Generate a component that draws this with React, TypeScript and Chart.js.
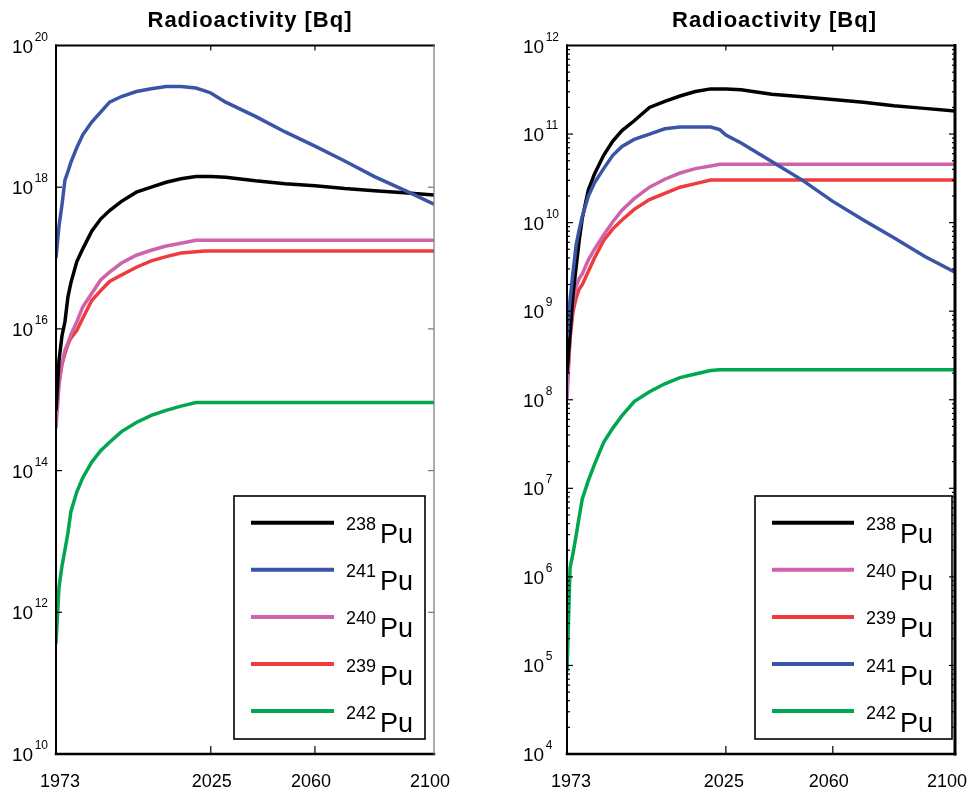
import React, { useEffect, useRef } from "react";
import { Chart, registerables } from "chart.js";

Chart.register(...registerables);

// Sample years (x)
const years = [1973, 1974, 1975, 1976, 1977, 1978, 1980, 1982, 1985, 1988, 1991, 1995, 2000, 2005, 2010, 2015, 2020, 2023, 2025, 2030, 2040, 2050, 2060, 2070, 2080, 2090, 2100];

// Tick labels
const xTickYears = [1973, 2025, 2060, 2100];
const xInnerTickYears = [2025, 2060];
const leftYExponents = [10, 12, 14, 16, 18, 20];
const rightYExponents = [4, 5, 6, 7, 8, 9, 10, 11, 12];

// Left panel: log10 of activity [Bq]
const left238 = [14.85, 15.55, 15.9, 16.1, 16.45, 16.65, 16.95, 17.13, 17.38, 17.55, 17.67, 17.8, 17.93, 18.0, 18.07, 18.12, 18.15, 18.15, 18.15, 18.14, 18.09, 18.05, 18.02, 17.98, 17.95, 17.92, 17.89];
const left241 = [17.0, 17.45, 17.75, 18.1, 18.22, 18.35, 18.56, 18.74, 18.92, 19.06, 19.2, 19.28, 19.35, 19.39, 19.42, 19.42, 19.4, 19.36, 19.33, 19.2, 19.0, 18.78, 18.58, 18.37, 18.15, 17.96, 17.76];
const left240 = [14.6, 15.2, 15.5, 15.7, 15.8, 15.92, 16.1, 16.31, 16.5, 16.69, 16.8, 16.93, 17.04, 17.11, 17.17, 17.21, 17.25, 17.25, 17.25, 17.25, 17.25, 17.25, 17.25, 17.25, 17.25, 17.25, 17.25];
const left239 = [14.76, 15.25, 15.5, 15.65, 15.78, 15.87, 15.98, 16.15, 16.4, 16.54, 16.67, 16.76, 16.87, 16.96, 17.02, 17.07, 17.09, 17.1, 17.1, 17.1, 17.1, 17.1, 17.1, 17.1, 17.1, 17.1, 17.1];
const left242 = [11.56, 12.35, 12.65, 12.88, 13.12, 13.42, 13.7, 13.9, 14.12, 14.28, 14.4, 14.55, 14.68, 14.78, 14.85, 14.91, 14.96, 14.96, 14.96, 14.96, 14.96, 14.96, 14.96, 14.96, 14.96, 14.96, 14.96];

// Right panel: log10 of activity [Bq]
const right238 = [8.3, 8.75, 9.2, 9.5, 9.8, 10.05, 10.37, 10.55, 10.76, 10.92, 11.04, 11.15, 11.3, 11.37, 11.43, 11.48, 11.51, 11.51, 11.51, 11.5, 11.45, 11.42, 11.39, 11.36, 11.32, 11.29, 11.26];
const right241 = [8.69, 9.13, 9.45, 9.75, 9.92, 10.07, 10.3, 10.45, 10.61, 10.76, 10.86, 10.94, 11.0, 11.06, 11.08, 11.08, 11.08, 11.05, 10.99, 10.9, 10.69, 10.48, 10.24, 10.03, 9.83, 9.62, 9.44];
const right240 = [8.0, 8.7, 9.1, 9.28, 9.37, 9.42, 9.58, 9.7, 9.86, 10.01, 10.14, 10.27, 10.4, 10.49, 10.56, 10.61, 10.64, 10.66, 10.66, 10.66, 10.66, 10.66, 10.66, 10.66, 10.66, 10.66, 10.66];
const right239 = [8.15, 8.7, 9.0, 9.15, 9.25, 9.3, 9.45, 9.6, 9.8, 9.93, 10.03, 10.15, 10.26, 10.33, 10.4, 10.44, 10.48, 10.48, 10.48, 10.48, 10.48, 10.48, 10.48, 10.48, 10.48, 10.48, 10.48];
const right242 = [4.93, 6.1, 6.27, 6.47, 6.68, 6.88, 7.09, 7.27, 7.52, 7.68, 7.82, 7.98, 8.09, 8.18, 8.25, 8.29, 8.33, 8.34, 8.34, 8.34, 8.34, 8.34, 8.34, 8.34, 8.34, 8.34, 8.34];

const COLORS: Record<string, string> = {
  "238": "#000000",
  "241": "#3b55a6",
  "240": "#cf63ab",
  "239": "#ef3b3d",
  "242": "#00a651",
};

const leftLegendOrder = ["238", "241", "240", "239", "242"];
const rightLegendOrder = ["238", "240", "239", "241", "242"];

const FONT = '"Liberation Sans", Arial, Helvetica, sans-serif';

function toPoints(vals: number[]) {
  return years.map((y, i) => ({ x: y, y: Math.pow(10, vals[i]) }));
}

const decoPlugin = {
  id: "deco",
  afterDraw(chart: any, _args: any, opts: any) {
    const ctx: CanvasRenderingContext2D = chart.ctx;
    const { left, right, top, bottom } = chart.chartArea;
    const xs = chart.scales.x;
    const ys = chart.scales.y;
    ctx.save();

    // Legend box
    const lb = opts.legendBox;
    ctx.fillStyle = "#ffffff";
    ctx.fillRect(lb.x, lb.y, lb.w, lb.h);
    ctx.strokeStyle = "#000";
    ctx.lineWidth = 1.6;
    ctx.strokeRect(lb.x, lb.y, lb.w, lb.h);
    opts.legendItems.forEach((iso: string, i: number) => {
      const y = lb.firstRow + i * lb.rowGap;
      ctx.strokeStyle = COLORS[iso];
      ctx.lineWidth = 4;
      ctx.lineCap = "butt";
      ctx.beginPath();
      ctx.moveTo(lb.lineX0, y);
      ctx.lineTo(lb.lineX1, y);
      ctx.stroke();
      ctx.fillStyle = "#000";
      ctx.textAlign = "left";
      ctx.textBaseline = "alphabetic";
      ctx.font = `18px ${FONT}`;
      ctx.fillText(iso, lb.supX, y + 7.5);
      ctx.font = `27px ${FONT}`;
      ctx.fillText("Pu", lb.puX, y + 20.5);
    });

    // Frame
    ctx.lineCap = "square";
    const line = (x0: number, y0: number, x1: number, y1: number, w: number, c: string) => {
      ctx.strokeStyle = c;
      ctx.lineWidth = w;
      ctx.beginPath();
      ctx.moveTo(x0, y0);
      ctx.lineTo(x1, y1);
      ctx.stroke();
    };
    line(left, top, right, top, 2, "#000");
    line(left, top, left, bottom, 2, "#000");
    line(left, bottom, right, bottom, 2.5, "#000");
    line(right, top, right, bottom, opts.rightFrameWidth, opts.rightFrameColor);

    // Y ticks
    ctx.lineCap = "butt";
    opts.majorExps.forEach((e: number) => {
      const y = ys.getPixelForValue(Math.pow(10, e));
      line(left, y, left + 6, y, 1.2, "#000");
      line(right - 6, y, right, y, 1.2, opts.rightFrameColor);
    });
    if (opts.minor) {
      for (let e = opts.yMinExp; e < opts.yMaxExp; e++) {
        for (let k = 2; k <= 9; k++) {
          const y = ys.getPixelForValue(k * Math.pow(10, e));
          line(left, y, left + 3, y, 1.2, "#000");
          line(right - 3, y, right, y, 1.2, "#000");
        }
      }
    }

    // X ticks
    xInnerTickYears.forEach((yr) => {
      const x = xs.getPixelForValue(yr);
      line(x, bottom, x, bottom - 8, 1.2, "#000");
      line(x, top, x, top + 5, 1.2, "#000");
    });

    // X labels
    ctx.fillStyle = "#000";
    ctx.font = `18px ${FONT}`;
    ctx.textAlign = "center";
    ctx.textBaseline = "alphabetic";
    xTickYears.forEach((yr, i) => {
      const x = xs.getPixelForValue(yr) + opts.xLabelDx[i];
      ctx.fillText(String(yr), x, bottom + 33);
    });

    // Y labels
    ctx.textAlign = "left";
    opts.labelExps.forEach((e: number) => {
      const y = ys.getPixelForValue(Math.pow(10, e));
      const x0 = left - 44;
      ctx.font = `19px ${FONT}`;
      ctx.fillText("10", x0, y + 7);
      const w = ctx.measureText("10").width;
      ctx.font = `12px ${FONT}`;
      ctx.fillText(String(e), x0 + w + 1.5, y - 5);
    });

    // Title
    ctx.font = `bold 22px ${FONT}`;
    (ctx as any).letterSpacing = "1px";
    ctx.textAlign = "center";
    ctx.fillText("Radioactivity [Bq]", opts.titleX, 27);
    (ctx as any).letterSpacing = "0px";

    ctx.restore();
  },
};

type PanelProps = {
  series: { iso: string; vals: number[] }[];
  yMinExp: number;
  yMaxExp: number;
  padding: { left: number; right: number; top: number; bottom: number };
  deco: any;
  style: React.CSSProperties;
};

function Panel(props: PanelProps) {
  const ref = useRef<HTMLCanvasElement | null>(null);
  useEffect(() => {
    if (!ref.current) return;
    const chart = new Chart(ref.current, {
      type: "line",
      data: {
        datasets: props.series.map((s) => ({
          label: s.iso + "Pu",
          data: toPoints(s.vals),
          borderColor: COLORS[s.iso],
          backgroundColor: COLORS[s.iso],
          borderWidth: 3.5,
          pointRadius: 0,
          tension: 0,
          fill: false,
        })),
      },
      options: {
        responsive: false,
        animation: false,
        devicePixelRatio: 1,
        parsing: false as any,
        layout: { padding: props.padding },
        scales: {
          x: { type: "linear", min: 1973, max: 2100, display: false },
          y: {
            type: "logarithmic",
            min: Math.pow(10, props.yMinExp),
            max: Math.pow(10, props.yMaxExp),
            display: false,
          },
        },
        plugins: {
          legend: { display: false },
          title: { display: false },
          tooltip: { enabled: false },
          deco: props.deco,
        } as any,
      },
      plugins: [decoPlugin as any],
    });
    return () => chart.destroy();
  }, []);
  return <canvas ref={ref} width={485} height={796} style={props.style} />;
}

export default function App() {
  useEffect(() => {
    document.body.style.margin = "0";
  }, []);
  const leftSeries = [
    { iso: "241", vals: left241 },
    { iso: "238", vals: left238 },
    { iso: "240", vals: left240 },
    { iso: "239", vals: left239 },
    { iso: "242", vals: left242 },
  ];
  const rightSeries = [
    { iso: "241", vals: right241 },
    { iso: "238", vals: right238 },
    { iso: "240", vals: right240 },
    { iso: "239", vals: right239 },
    { iso: "242", vals: right242 },
  ];
  return (
    <div style={{ position: "relative", width: 970, height: 796, background: "#fff" }}>
      <Panel
        series={leftSeries}
        yMinExp={10}
        yMaxExp={20}
        padding={{ left: 56, right: 51, top: 45.5, bottom: 42 }}
        style={{ position: "absolute", left: 0, top: 0 }}
        deco={{
          legendItems: leftLegendOrder,
          legendBox: { x: 234, y: 496, w: 191, h: 243, firstRow: 522.7, rowGap: 47.1, lineX0: 251, lineX1: 334, supX: 346, puX: 380 },
          rightFrameWidth: 1.2,
          rightFrameColor: "#777",
          majorExps: [12, 14, 16, 18],
          minor: false,
          yMinExp: 10,
          yMaxExp: 20,
          labelExps: leftYExponents,
          xLabelDx: [4, 1, -4, -4],
          titleX: 250,
        }}
      />
      <Panel
        series={rightSeries}
        yMinExp={4}
        yMaxExp={12}
        padding={{ left: 82, right: 15, top: 45.5, bottom: 42 }}
        style={{ position: "absolute", left: 485, top: 0 }}
        deco={{
          legendItems: rightLegendOrder,
          legendBox: { x: 270, y: 496, w: 197, h: 243, firstRow: 522.7, rowGap: 47.1, lineX0: 287, lineX1: 369, supX: 381, puX: 415 },
          rightFrameWidth: 3,
          rightFrameColor: "#000",
          majorExps: [5, 6, 7, 8, 9, 10, 11],
          minor: true,
          yMinExp: 4,
          yMaxExp: 12,
          labelExps: rightYExponents,
          xLabelDx: [4, -2, -4, -8],
          titleX: 289.5,
        }}
      />
    </div>
  );
}
